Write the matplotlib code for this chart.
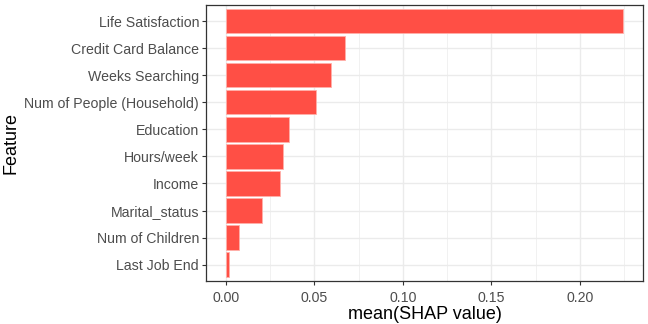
import numpy as np
import matplotlib.pyplot as plt

plt.rcParams['font.family'] = ['Liberation Sans', 'DejaVu Sans']

features = ['Life Satisfaction', 'Credit Card Balance', 'Weeks Searching',
            'Num of People (Household)', 'Education', 'Hours/week', 'Income',
            'Marital_status', 'Num of Children', 'Last Job End']
shap_vals = [0.2243, 0.0672, 0.0595, 0.0507, 0.0356, 0.0322, 0.0305,
             0.0203, 0.0073, 0.0015]

fig = plt.figure(figsize=(6.48, 3.24), dpi=100)
ax = fig.add_axes([0.318, 0.133, 0.674, 0.852])

y = np.arange(len(features))[::-1]
ax.barh(y, shap_vals, height=0.9, color='#FF4F45', edgecolor='#FFB0AA', linewidth=0.6, zorder=3)

ax.set_yticks(y)
ax.set_yticklabels(features)
ax.set_ylim(-0.6, len(features) - 0.4)
ax.set_xlim(-0.0112, 0.2355)
ax.set_xticks([0, 0.05, 0.1, 0.15, 0.2])
ax.set_xticklabels(['0.00', '0.05', '0.10', '0.15', '0.20'])
ax.set_xticks([0.025, 0.075, 0.125, 0.175, 0.225], minor=True)

ax.grid(True, which='major', color='#EBEBEB', linewidth=1.0, zorder=0)
ax.grid(True, which='minor', axis='x', color='#EBEBEB', linewidth=0.5, zorder=0)
ax.set_axisbelow(True)

for s in ax.spines.values():
    s.set_color('#333333')
    s.set_linewidth(0.9)

ax.tick_params(axis='both', which='major', colors='#333333', labelcolor='#4D4D4D',
               labelsize=10.2, length=3, width=0.8, pad=2)
ax.tick_params(axis='x', which='major', pad=4)
ax.tick_params(axis='x', which='minor', length=0)

ax.set_xlabel('mean(SHAP value)', fontsize=13, labelpad=1)
ax.set_ylabel('Feature', fontsize=13)
ax.yaxis.set_label_coords(-0.428, 0.5)

fig.savefig('out.png', dpi=100)
